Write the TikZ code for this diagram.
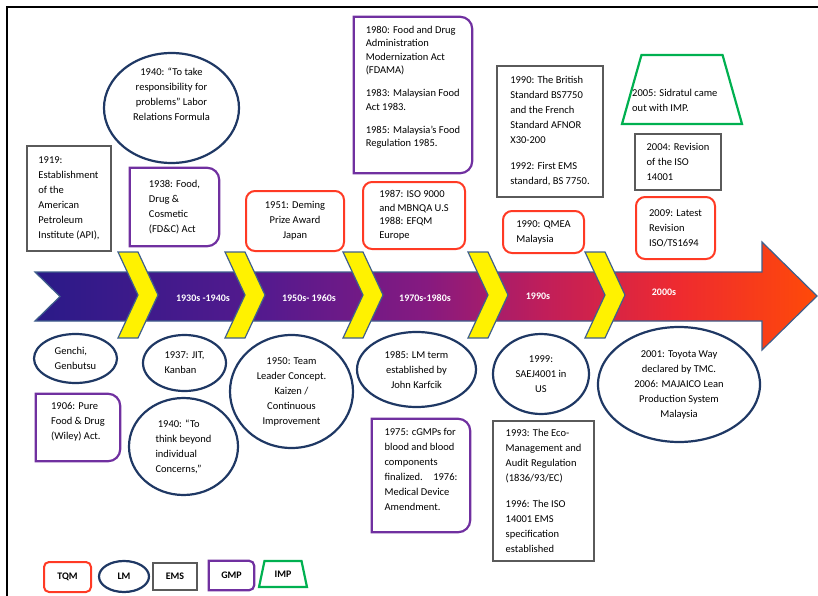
\documentclass[tikz,border=0pt]{standalone}
\usepackage{fontspec}
\setmainfont{Carlito}
\usetikzlibrary{shapes.geometric}

\definecolor{tqmred}{HTML}{FF3A24}
\definecolor{lmblue}{HTML}{1F3864}
\definecolor{emsgray}{HTML}{5A5A5A}
\definecolor{gmppurple}{HTML}{7030A0}
\definecolor{impgreen}{HTML}{00B050}
\definecolor{shapeline}{HTML}{3F5F8C}
\definecolor{flowA}{HTML}{2A1A88}
\definecolor{flowB}{HTML}{561A8E}
\definecolor{flowC}{HTML}{861A80}
\definecolor{flowD}{HTML}{C01E5A}
\definecolor{flowE}{HTML}{EE2A30}
\definecolor{flowF}{HTML}{FF4A08}

% colour run of the time arrow, left to right (the path takes 25bp..75bp)
\pgfdeclarehorizontalshading{eraflow}{100bp}{color(0bp)=(flowA); color(25bp)=(flowA);
  color(40bp)=(flowB); color(50bp)=(flowC); color(57.5bp)=(flowD); color(66bp)=(flowE);
  color(75bp)=(flowF); color(100bp)=(flowF)}

\tikzset{
  note/.style={font=\fontsize{10.5}{15}\selectfont, inner sep=0pt, align=left},
  tight/.style={font=\fontsize{10.5}{13.5}\selectfont},
  tqm/.style={note, draw=tqmred, line width=2pt, rounded corners=9pt},
  lm/.style={note, draw=lmblue, line width=2.2pt, ellipse, align=center},
  ems/.style={note, draw=emsgray, line width=1.4pt},
  gmp/.style={note},
  gmpline/.style={draw=gmppurple, line width=2.2pt},
  imp/.style={note, inner sep=1pt, draw=impgreen, line width=2.2pt, trapezium, trapezium stretches=true, align=center},
  key/.style={font=\bfseries\fontsize{10}{12}\selectfont},
  era/.style={text=white, font=\bfseries\fontsize{10}{12}\selectfont, inner sep=0pt},
  timeline/.style={draw=shapeline, line width=1.2pt, shading=eraflow},
  chevron/.style={draw=shapeline, line width=1.2pt, fill=yellow}
}

% GMP boxes: rounded on top only
\newcommand{\gmpframe}[2][12pt]{\draw[gmpline] (#2.south west) -- (#2.north west) [rounded corners=#1] -- (#2.north east) -- (#2.south east) [sharp corners] -- cycle;}

\begin{document}
\begin{tikzpicture}[x=1pt, y=-1pt]
\useasboundingbox (0,0) rectangle (818,596);
\draw[line width=2.4pt] (7,596) -- (7,7) -- (818,7);

% time arrow with the decade chevrons
\shadedraw[timeline] (35,272) -- (762,272) -- (762,242) -- (817,296) -- (762,350) -- (762,321) -- (35,321) -- (60,296.5) -- cycle;
\foreach \x in {118,225,343,468,585}
  \draw[chevron] (\x,252) -- ++(20,0) -- ++(20,43) -- ++(-20,43) -- ++(-20,0) -- ++(20,-43) -- cycle;
\foreach \x/\y/\era in {203/298/1930s -1940s, 309/298/1950s- 1960s, 425/298/1970s-1980s, 538/296/1990s, 664/292/2000s}
  \node[era] (era\x) at (\x,\y) {\era};

% above the arrow
\node[ems, minimum width=84pt, minimum height=105pt] (api) at (69,198.5) {1919:\\Establishment\\of the\\American\\Petroleum\\Institute (API),};
\node[lm, minimum width=135pt, minimum height=110pt, text height=30pt, text depth=4pt] (labor) at (171.5,108) {1940: “To take\\responsibility for\\problems” Labor\\Relations Formula};
\node[gmp, minimum width=89pt, minimum height=78pt] (fdc) at (174.5,207) {1938: Food,\\Drug \&\\Cosmetic\\(FD\&C) Act};
\node[tqm, align=center, minimum width=98pt, minimum height=60pt] (deming) at (295,221) {1951: Deming\\Prize Award\\Japan};
\node[gmp, tight, minimum width=118pt, minimum height=156pt, text height=110pt, text depth=6pt] (fdama) at (413,95) {1980: Food and Drug\\Administration\\Modernization Act\\(FDAMA)\\[9.5pt]1983: Malaysian Food\\Act 1983.\\[9.5pt]1985: Malaysia’s Food\\Regulation 1985.};
\node[tqm, tight, minimum width=102pt, minimum height=67pt] (iso9000) at (414,215.5) {1987: ISO 9000\\and MBNQA U.S\\1988: EFQM\\Europe};
\node[ems, minimum width=106pt, minimum height=131pt] (bs7750) at (550,131.5) {1990: The British\\Standard BS7750\\and the French\\Standard AFNOR\\X30-200\\[11pt]1992: First EMS\\standard, BS 7750.};
\node[tqm, minimum width=81pt, minimum height=42pt] (qmea) at (543.5,232) {1990: QMEA\\Malaysia};
\node[imp, minimum width=120pt, minimum height=69pt, trapezium left angle=76.5, trapezium right angle=76.5] (sidratul) at (682,89.5) {};
\node[note, anchor=west] (sidratul-txt) at (632,100.5) {2005: Sidratul came\\out with IMP.};
\node[ems, minimum width=86pt, minimum height=56pt] (iso14001) at (678,162) {2004: Revision\\of the ISO\\14001};
\node[tqm, minimum width=79pt, minimum height=62pt] (ts1694) at (675.5,228) {2009: Latest\\Revision\\ISO/TS1694};

% below the arrow
\node[lm, align=left, minimum width=83pt, minimum height=49pt] (genchi) at (75.5,358.5) {Genchi,\\Genbutsu};
\node[gmp, minimum width=84pt, minimum height=67pt, text height=27pt, text depth=4pt] (wiley) at (78,427.5) {1906: Pure\\Food \& Drug\\(Wiley) Act.};
\node[lm, align=left, minimum width=83pt, minimum height=56pt] (jit) at (184.5,363) {1937: JIT,\\Kanban};
\node[lm, align=left, minimum width=109pt, minimum height=97pt] (beyond) at (183.5,446.5) {\ 1940: “To\\think beyond\\individual\\Concerns,”};
\node[lm, minimum width=123pt, minimum height=113pt] (kaizen) at (291.5,391.5) {1950: Team\\Leader Concept.\\Kaizen /\\Continuous\\Improvement};
\node[lm, minimum width=119pt, minimum height=75pt] (karfcik) at (416.5,369.5) {1985: LM term\\established by\\John Karfcik};
\node[gmp, minimum width=98pt, minimum height=113pt, text height=75pt, text depth=6pt] (cgmp) at (421,475.5) {1975: cGMPs for\\blood and blood\\components\\finalized.\quad 1976:\\Medical Device\\Amendment.};
\node[lm, minimum width=96pt, minimum height=80pt] (saej) at (541,374) {1999:\\SAEJ4001 in\\US};
\node[ems, minimum width=101pt, minimum height=140pt] (emas) at (543.5,491) {1993: The Eco-\\Management and\\Audit Regulation\\(1836/93/EC)\\[11pt]1996: The ISO\\14001 EMS\\specification\\established};
\node[lm, minimum width=162pt, minimum height=115pt] (toyota) at (679,384.5) {2001: Toyota Way\\declared by TMC.\\2006: MAJAICO Lean\\Production System\\Malaysia};

% key
\node[tqm, key, rounded corners=5pt, minimum width=47pt, minimum height=30pt] (keytqm) at (67.5,577) {TQM};
\node[lm, key, minimum width=50pt, minimum height=31pt] (keylm) at (124,576.5) {LM};
\node[ems, key, minimum width=44pt, minimum height=27pt] (keyems) at (175,576.5) {EMS};
\node[gmp, key, minimum width=45pt, minimum height=29pt] (keygmp) at (231.5,575.5) {GMP};
\node[imp, key, minimum width=48pt, minimum height=26pt, trapezium left angle=72, trapezium right angle=72] (keyimp) at (283,574) {IMP};

\foreach \n in {fdc,fdama,wiley,cgmp} \gmpframe{\n};
\gmpframe[5pt]{keygmp};
\end{tikzpicture}
\end{document}
